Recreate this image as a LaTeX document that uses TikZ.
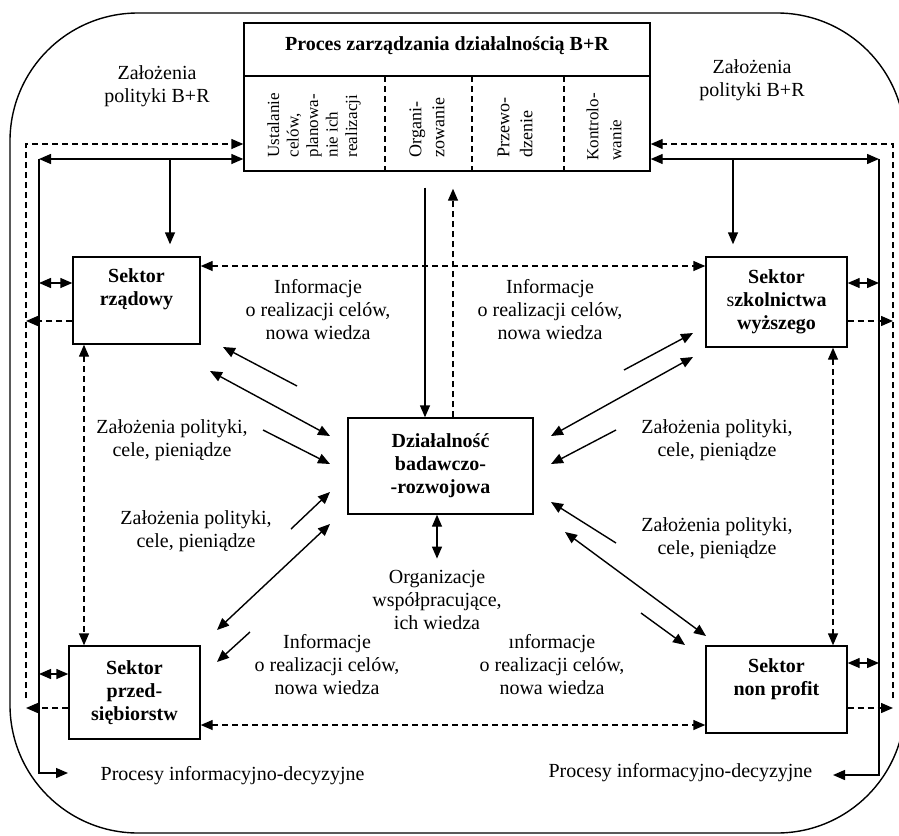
\documentclass[tikz,border=0pt]{standalone}
\usepackage{fontspec}
\setmainfont{Liberation Serif}
\usetikzlibrary{arrows.meta}

\tikzset{
  txt/.style={align=center, inner sep=0pt, font=\fontsize{10}{11.5}\selectfont},
  txtb/.style={txt, font=\fontsize{10}{11.5}\selectfont\bfseries},
  kol/.style={rotate=90, anchor=west, align=left, inner sep=0pt, font=\fontsize{9}{11.5}\selectfont},
  sektor/.style={draw, txtb},
  przer/.style={dash pattern=on 3pt off 2pt},
}

\begin{document}
\begin{tikzpicture}[x=0.5pt, y=-0.5pt, line width=0.7pt, >={Triangle[length=6pt,width=5pt]}]
  \useasboundingbox (0,0) rectangle (899,835);
  % ramka
  \draw[rounded corners=64pt] (10,13) rectangle (905,833);

  % proces zarzadzania
  \node[draw, minimum width=203pt, minimum height=74pt] (proces) at (447,97) {};
  \node[txtb] (tytul) at (447,46) {Proces zarządzania działalnością B+R};
  \draw (proces.west |- 0,76) -- (proces.east |- 0,76);
  \foreach \x in {385,472,564}
    \draw[przer] (\x,76) -- (proces.south -| \x,0);
  \node[kol, font=\fontsize{8.5}{9.75}\selectfont] (k1) at (314,158) {Ustalanie\\celów,\\planowa-\\nie ich\\realizacji};
  \node[kol] (k2) at (427,158) {Organi-\\zowanie};
  \node[kol] (k3) at (515,158) {Przewo-\\dzenie};
  \node[kol, font=\fontsize{8.5}{11.5}\selectfont] (k4) at (604,161) {Kontrolo-\\wanie};

  % sektory
  \node[sektor, minimum width=63.5pt, minimum height=43.5pt,
        label={[txtb, yshift=5.75pt]center:Sektor\\rządowy}] (rzad) at (136.5,300.5) {};
  \node[sektor, minimum width=70.5pt, minimum height=45pt] (szkol) at (776.5,302)
        {Sektor\\{\mdseries s}zkolnictwa\\wyższego};
  \node[sektor, minimum width=65.5pt, minimum height=46.5pt] (przed) at (134.5,692.5)
        {Sektor\\przed-\\siębiorstw};
  \node[sektor, minimum width=70.5pt, minimum height=43.5pt,
        label={[txtb, yshift=5.25pt]center:Sektor\\non profit}] (nonp) at (776.5,689.5) {};
  \node[sektor, minimum width=92.5pt, minimum height=48pt] (br) at (440.5,466)
        {Działalność\\badawczo-\\-rozwojowa};

  % opisy
  \node[txt] (zalL) at (157,86) {Założenia\\polityki B+R};
  \node[txt] (zalR) at (752,80) {Założenia\\polityki B+R};
  \node[txt] (infTL) at (318,310) {Informacje\\o realizacji celów,\\nowa wiedza};
  \node[txt] (infTR) at (550,310) {Informacje\\o realizacji celów,\\nowa wiedza};
  \node[txt] (polTL) at (172,440) {Założenia polityki,\\cele, pieniądze};
  \node[txt] (polBL) at (196,531) {Założenia polityki,\\cele, pieniądze};
  \node[txt] (polTR) at (717,440) {Założenia polityki,\\cele, pieniądze};
  \node[txt] (polBR) at (717,538) {Założenia polityki,\\cele, pieniądze};
  \node[txt] (org) at (437,600) {Organizacje\\współpracujące,\\ich wiedza};
  \node[txt] (infBL) at (327,665) {Informacje\\o realizacji celów,\\nowa wiedza};
  \node[txt] (infBR) at (552,665) {ınformacje\\o realizacji celów,\\nowa wiedza};
  \node[txt, anchor=west] (procL) at (100,776) {Procesy informacyjno-decyzyjne};
  \node[txt, anchor=east] (procR) at (813,773) {Procesy informacyjno-decyzyjne};

  % lewa strona
  \coordinate (lD) at (26,144);
  \coordinate (lDd) at (26,698);
  \coordinate (lS) at (39,159);
  \coordinate (lE) at (68,773);
  \draw[przer,->] (lDd) -- (lD) -- (lD -| proces.west);
  \draw[<->] (lS) -- (lS -| proces.west);
  \draw[->] (lS) |- (lE);
  \draw[<->] (lS |- 0,283) -- (rzad.west |- 0,283);
  \draw[<->] (lS |- 0,674) -- (przed.west |- 0,674);
  \draw[przer,->] (rzad.west |- 0,321) -- (lD |- 0,321);
  \draw[przer,->] (przed.west |- 0,708) -- (lD |- 0,708);
  \draw[->, shorten >=6pt] (lS -| 170,0) -- (rzad.north -| 170,0);
  \draw[przer,<->] (rzad.south -| 84,0) -- (przed.north -| 84,0);

  % prawa strona
  \coordinate (rD) at (893,144);
  \coordinate (rDd) at (893,698);
  \coordinate (rS) at (879,159);
  \coordinate (rE) at (833,775);
  \draw[przer,->] (rDd) -- (rD) -- (rD -| proces.east);
  \draw[<->] (rS -| proces.east) -- (rS);
  \draw[->] (rS) |- (rE);
  \draw[<->] (szkol.east |- 0,283) -- (rS |- 0,283);
  \draw[<->] (nonp.east |- 0,663) -- (rS |- 0,663);
  \draw[przer,->] (szkol.east |- 0,321) -- (rD |- 0,321);
  \draw[przer,->] (nonp.east |- 0,708) -- (rD |- 0,708);
  \draw[->, shorten >=6pt] (rS -| 733,0) -- (szkol.north -| 733,0);
  \draw[przer,<->] (szkol.south -| 833,0) -- (nonp.north -| 833,0);

  % poziome przerywane
  \draw[przer,<->] (rzad.east |- 0,266) -- (szkol.west |- 0,266);
  \draw[przer,<->] (przed.east |- 0,725) -- (nonp.west |- 0,725);

  % proces <-> dzialalnosc
  \draw[->, shorten <=8pt] (proces.south -| 425,0) -- (br.north -| 425,0);
  \draw[przer,->, shorten >=8.5pt] (br.north -| 453,0) -- (proces.south -| 453,0);
  \draw[<->, shorten >=5.5pt] (br.south -| org.north) -- (org.north);

  % strzalki ukosne
  \coordinate (a1) at (297,386); \coordinate (b1) at (223,347);
  \coordinate (a2) at (210,371); \coordinate (b2) at (330,436);
  \coordinate (a3) at (263,430); \coordinate (b3) at (330,464);
  \coordinate (a4) at (291,529); \coordinate (b4) at (330,492);
  \coordinate (a5) at (217,630); \coordinate (b5) at (330,524);
  \coordinate (a6) at (250,632); \coordinate (b6) at (217,662);
  \coordinate (a7) at (624,370); \coordinate (b7) at (693,333);
  \coordinate (a8) at (693,357); \coordinate (b8) at (551,436);
  \coordinate (a9) at (616,430); \coordinate (b9) at (551,464);
  \coordinate (a10) at (616,543); \coordinate (b10) at (551,502);
  \coordinate (a11) at (565,532); \coordinate (b11) at (706,636);
  \coordinate (a12) at (641,613); \coordinate (b12) at (685,645);
  \foreach \i in {1,3,4,6,7,9,10,12}
    \draw[->] (a\i) -- (b\i);
  \foreach \i in {2,5,8,11}
    \draw[<->] (a\i) -- (b\i);
\end{tikzpicture}
\end{document}
